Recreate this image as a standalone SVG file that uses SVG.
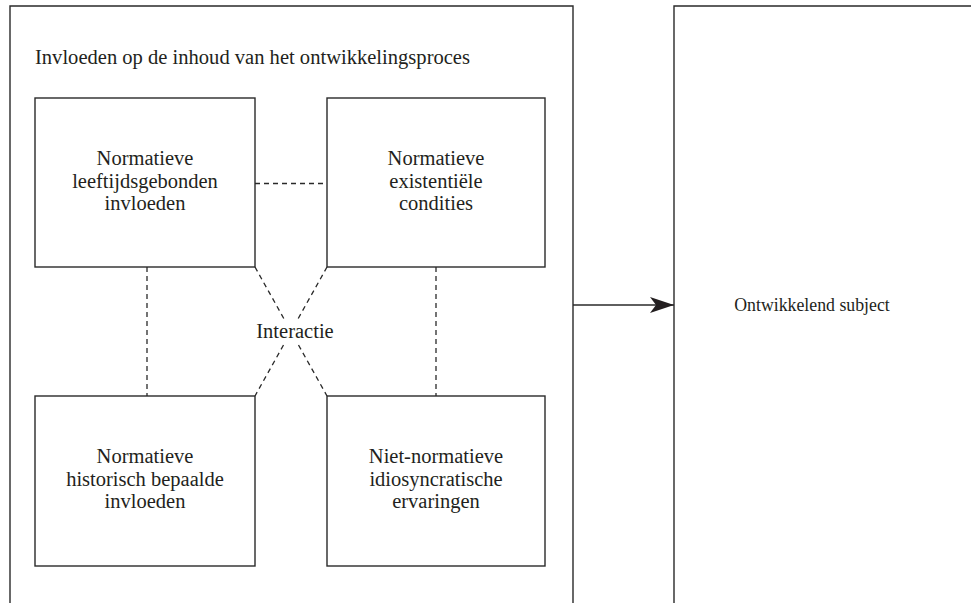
<svg xmlns="http://www.w3.org/2000/svg" width="971" height="603" viewBox="0 0 971 603">
  <defs>
    <style>
      .frame { fill: none; stroke: #2a2a2a; stroke-width: 1.4; }
      .box { fill: #ffffff; stroke: #2a2a2a; stroke-width: 1.4; }
      .dash { fill: none; stroke: #2a2a2a; stroke-width: 1.3; stroke-dasharray: 5 4; }
      .solid { fill: none; stroke: #2a2a2a; stroke-width: 1.4; }
      text { font-family: "Liberation Serif", "DejaVu Serif", serif; font-size: 20.5px; fill: #231f20; }
      .c { text-anchor: middle; }
    </style>
    <marker id="arrowhead" markerUnits="userSpaceOnUse" markerWidth="26" markerHeight="18" refX="24" refY="9" orient="auto">
      <path d="M24,9 L0,1 L6,9 L0,17 Z" fill="#231f20"/>
    </marker>
  </defs>

  <rect width="971" height="603" fill="#ffffff"/>

  <!-- Outer frame: influences on the content of development -->
  <g id="influences-frame">
    <path class="frame" d="M10,610 L10,6 L573,6 L573,610"/>
    <text x="35" y="64" textLength="435" lengthAdjust="spacingAndGlyphs">Invloeden op de inhoud van het ontwikkelingsproces</text>
  </g>

  <!-- Outer frame: developing subject -->
  <g id="subject-frame">
    <path class="frame" d="M674,610 L674,6 L980,6"/>
    <text class="c" x="812" y="311" style="font-size:17.8px">Ontwikkelend subject</text>
  </g>

  <!-- Connectors -->
  <g id="connectors">
    <line class="dash" x1="255" y1="183.5" x2="327" y2="183.5"/>
    <line class="dash" x1="147" y1="267" x2="147" y2="396"/>
    <line class="dash" x1="436" y1="267" x2="436" y2="396"/>
    <line class="dash" x1="255" y1="267" x2="284.6" y2="320"/>
    <line class="dash" x1="298.5" y1="345" x2="327" y2="396"/>
    <line class="dash" x1="327" y1="267" x2="297.4" y2="320"/>
    <line class="dash" x1="283.5" y1="345" x2="255" y2="396"/>
    <line class="solid" x1="573" y1="305" x2="674" y2="305" marker-end="url(#arrowhead)"/>
  </g>

  <g id="interaction-label">
    <text class="c" x="295" y="338">Interactie</text>
  </g>

  <g id="node-age-graded">
    <rect class="box" x="35" y="98" width="220" height="169"/>
    <text class="c" x="145" y="165">Normatieve</text>
    <text class="c" x="145" y="187.5">leeftijdsgebonden</text>
    <text class="c" x="145" y="210">invloeden</text>
  </g>

  <g id="node-existential">
    <rect class="box" x="327" y="98" width="218" height="169"/>
    <text class="c" x="436" y="165">Normatieve</text>
    <text class="c" x="436" y="187.5">existentiële</text>
    <text class="c" x="436" y="210">condities</text>
  </g>

  <g id="node-history-graded">
    <rect class="box" x="35" y="396" width="220" height="170"/>
    <text class="c" x="145" y="463">Normatieve</text>
    <text class="c" x="145" y="485.5">historisch bepaalde</text>
    <text class="c" x="145" y="508">invloeden</text>
  </g>

  <g id="node-non-normative">
    <rect class="box" x="327" y="396" width="218" height="170"/>
    <text class="c" x="436" y="463">Niet-normatieve</text>
    <text class="c" x="436" y="485.5">idiosyncratische</text>
    <text class="c" x="436" y="508">ervaringen</text>
  </g>
</svg>
